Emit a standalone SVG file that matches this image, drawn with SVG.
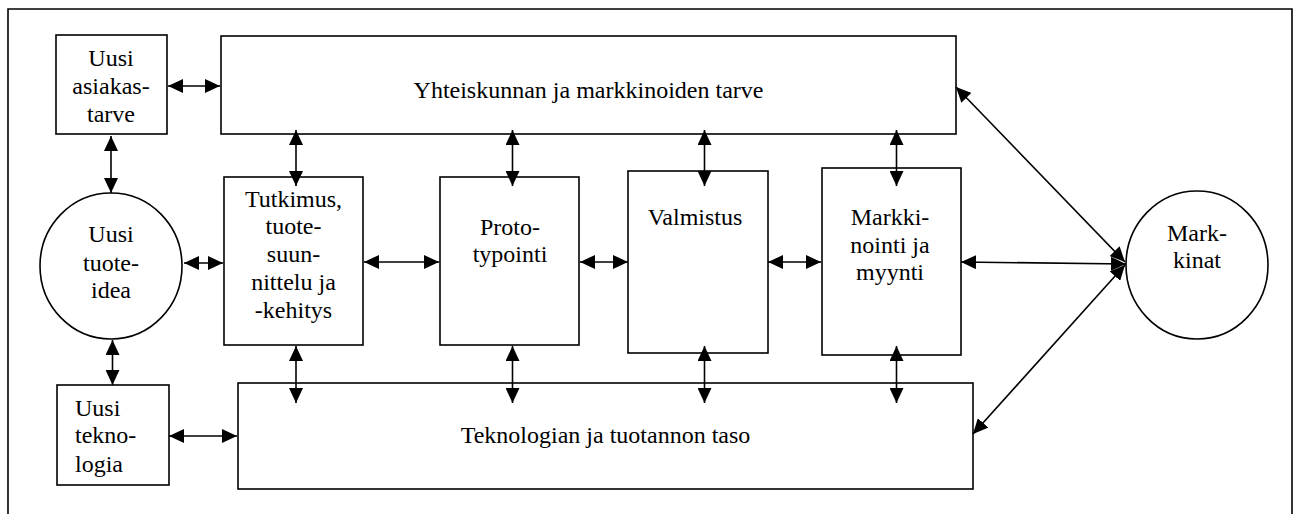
<svg xmlns="http://www.w3.org/2000/svg" width="1294" height="514" viewBox="0 0 1294 514">
  <style>
    .box { fill: #fff; stroke: #000; stroke-width: 1.6; }
    .frame { fill: none; stroke: #000; stroke-width: 1.6; }
    .lbl { font-family: "Liberation Serif", "Times New Roman", serif; font-size: 24px; fill: #000; text-anchor: middle; }
    .lbl-l { font-family: "Liberation Serif", "Times New Roman", serif; font-size: 24px; fill: #000; }
    .link { stroke: #000; stroke-width: 1.6; fill: none; marker-start: url(#head); marker-end: url(#head); }
  </style>
  <defs>
    <marker id="head" viewBox="0 0 15 14" refX="15" refY="7" markerWidth="15" markerHeight="14" markerUnits="userSpaceOnUse" orient="auto-start-reverse">
      <path d="M0,0 L15,7 L0,14 Z" fill="#000"/>
    </marker>
  </defs>
  <rect width="1294" height="514" fill="#fff"/>

  <!-- outer frame -->
  <path class="frame" d="M8,520 V9 H1292 V520"/>

  <g id="uusi-asiakastarve">
    <rect class="box" x="56" y="35" width="111" height="99"/>
    <text class="lbl" x="111" y="66">Uusi</text>
    <text class="lbl" x="111" y="94">asiakas-</text>
    <text class="lbl" x="111" y="122">tarve</text>
  </g>

  <g id="yhteiskunta">
    <rect class="box" x="221" y="36" width="735" height="98"/>
    <text class="lbl" x="588.5" y="98">Yhteiskunnan ja markkinoiden tarve</text>
  </g>

  <g id="uusi-tuoteidea">
    <ellipse class="box" cx="111" cy="266" rx="71" ry="73"/>
    <text class="lbl" x="111" y="242">Uusi</text>
    <text class="lbl" x="111" y="271">tuote-</text>
    <text class="lbl" x="111" y="298">idea</text>
  </g>

  <g id="tutkimus">
    <rect class="box" x="224" y="177" width="139" height="168"/>
    <text class="lbl" x="293.5" y="207">Tutkimus,</text>
    <text class="lbl" x="293.5" y="234">tuote-</text>
    <text class="lbl" x="293.5" y="262">suun-</text>
    <text class="lbl" x="293.5" y="290">nittelu ja</text>
    <text class="lbl" x="293.5" y="318">-kehitys</text>
  </g>

  <g id="prototypointi">
    <rect class="box" x="440" y="177" width="139" height="168"/>
    <text class="lbl" x="510" y="235">Proto-</text>
    <text class="lbl" x="510" y="262">typointi</text>
  </g>

  <g id="valmistus">
    <rect class="box" x="628" y="171" width="140" height="182"/>
    <text class="lbl" x="695" y="225">Valmistus</text>
  </g>

  <g id="markkinointi">
    <rect class="box" x="822" y="168" width="139" height="187"/>
    <text class="lbl" x="890" y="225">Markki-</text>
    <text class="lbl" x="890" y="253">nointi ja</text>
    <text class="lbl" x="890" y="280">myynti</text>
  </g>

  <g id="markkinat">
    <ellipse class="box" cx="1197" cy="265" rx="71" ry="74"/>
    <text class="lbl" x="1197" y="241">Mark-</text>
    <text class="lbl" x="1197" y="268">kinat</text>
  </g>

  <g id="uusi-teknologia">
    <rect class="box" x="57" y="385" width="112" height="100"/>
    <text class="lbl-l" x="75" y="416">Uusi</text>
    <text class="lbl-l" x="75" y="443">tekno-</text>
    <text class="lbl-l" x="75" y="472">logia</text>
  </g>

  <g id="teknologia">
    <rect class="box" x="238" y="383" width="735" height="106"/>
    <text class="lbl" x="605.5" y="443">Teknologian ja tuotannon taso</text>
  </g>

  <g id="connectors">
    <!-- horizontal links -->
    <line class="link" x1="168" y1="86" x2="220" y2="86"/>
    <line class="link" x1="184" y1="263" x2="223" y2="263"/>
    <line class="link" x1="364" y1="262" x2="439" y2="262"/>
    <line class="link" x1="580" y1="262" x2="628" y2="262"/>
    <line class="link" x1="768" y1="262" x2="821" y2="262"/>
    <line class="link" x1="169" y1="436" x2="237" y2="436"/>
    <!-- left column -->
    <line class="link" x1="111" y1="136" x2="111" y2="193"/>
    <line class="link" x1="112.5" y1="340" x2="112.5" y2="385"/>
    <!-- upper row of vertical links -->
    <line class="link" x1="296" y1="130" x2="296" y2="186"/>
    <line class="link" x1="512.5" y1="130" x2="512.5" y2="186"/>
    <line class="link" x1="704.5" y1="130" x2="704.5" y2="186"/>
    <line class="link" x1="896.5" y1="130" x2="896.5" y2="186"/>
    <!-- lower row of vertical links -->
    <line class="link" x1="296" y1="346" x2="296" y2="403"/>
    <line class="link" x1="512.5" y1="346" x2="512.5" y2="403"/>
    <line class="link" x1="704.5" y1="346" x2="704.5" y2="403"/>
    <line class="link" x1="896.5" y1="346" x2="896.5" y2="403"/>
    <!-- links to Markkinat -->
    <line class="link" x1="956" y1="87" x2="1125" y2="262"/>
    <line class="link" x1="961" y1="262" x2="1126" y2="264"/>
    <line class="link" x1="973" y1="434" x2="1125" y2="265"/>
  </g>
</svg>
